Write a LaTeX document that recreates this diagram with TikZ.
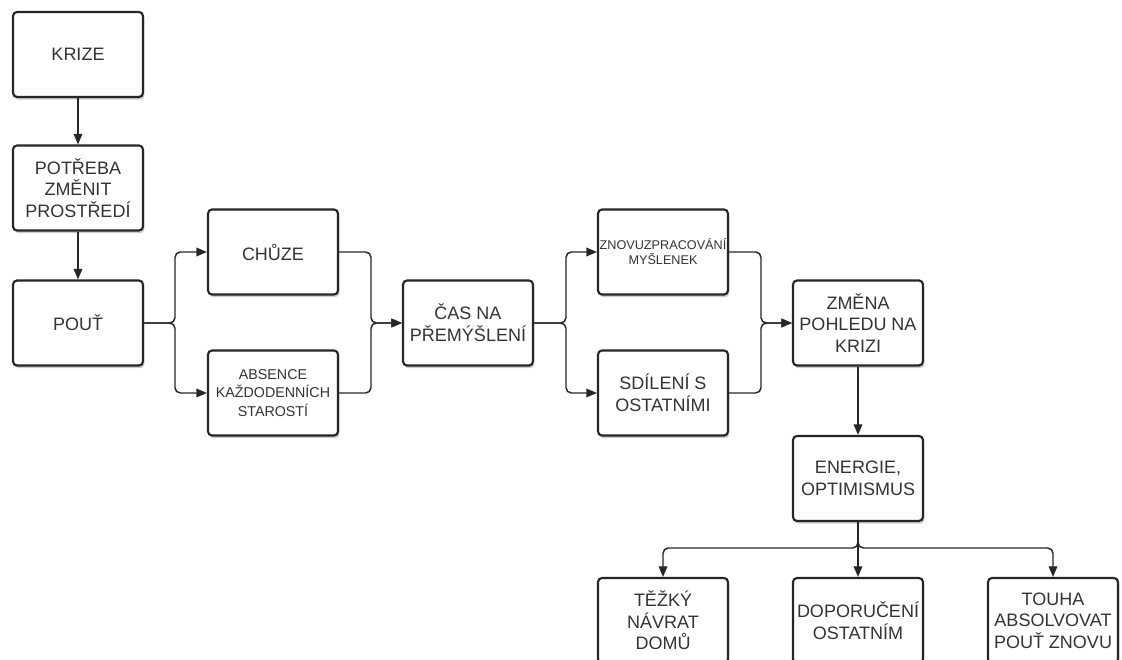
\documentclass[tikz,border=0pt]{standalone}
\usepackage{fontspec}
\setmainfont{Liberation Sans}
\usepackage{xcolor}
\usetikzlibrary{arrows.meta, shadows}

\definecolor{ramecek}{HTML}{262626}
\definecolor{textbarva}{HTML}{333333}

\begin{document}
\begin{tikzpicture}[x=0.75pt, y=0.75pt,
    >={Triangle[length=8pt, width=6.5pt]},
    krok/.style={draw=ramecek, line width=1.6pt, rounded corners=3pt, fill=white,
        minimum width=97.5pt, minimum height=63.75pt, inner sep=1pt, align=center,
        text=textbarva, font=\fontsize{13.5}{16.25}\selectfont,
        drop shadow={shadow xshift=1pt, shadow yshift=-2pt, opacity=0.2, fill=black}},
    maly/.style={font=\fontsize{10.7}{13.75}\selectfont},
    drobny/.style={font=\fontsize{9.5}{11.25}\selectfont},
    spoj/.style={->, draw=ramecek, line width=1.1pt, rounded corners=4pt}]

    \useasboundingbox (0,0) rectangle (1122,660);

    % 1. Kroky
    \node[krok] (krize) at (78,605.5) {KRIZE};
    \node[krok] (potreba) at (78,472) {POTŘEBA\\ZMĚNIT\\PROSTŘEDÍ};
    \node[krok] (pout) at (78,337) {POUŤ};

    \node[krok] (chuze) at (273,408) {CHŮZE};
    \node[krok, maly] (absence) at (273,267) {ABSENCE\\KAŽDODENNÍCH\\STAROSTÍ};

    \node[krok] (cas) at (468,337) {ČAS NA\\PŘEMÝŠLENÍ};

    \node[krok, drobny] (znovu) at (663,408) {ZNOVUZPRACOVÁNÍ\\MYŠLENEK};
    \node[krok] (sdileni) at (663,267) {SDÍLENÍ S\\OSTATNÍMI};

    \node[krok] (zmena) at (858,337) {ZMĚNA\\POHLEDU NA\\KRIZI};
    \node[krok] (energie) at (858,181.5) {ENERGIE,\\OPTIMISMUS};

    \node[krok] (tezky) at (663,39.5) {TĚŽKÝ\\NÁVRAT\\DOMŮ};
    \node[krok] (doporuceni) at (858,39.5) {DOPORUČENÍ\\OSTATNÍM};
    \node[krok] (touha) at (1053,39.5) {TOUHA\\ABSOLVOVAT\\POUŤ ZNOVU};

    % 2. Body vetveni
    \coordinate (rozdel1) at (175,337);
    \coordinate (spoj1) at (371,337);
    \coordinate (rozdel2) at (566,337);
    \coordinate (spoj2) at (761,337);
    \coordinate (rozdel3) at (858,112);

    % 3. Spojnice
    \draw[spoj] (krize) -- (potreba);
    \draw[spoj] (potreba) -- (pout);

    \draw[spoj] (pout.east) -- (rozdel1) |- (chuze.west);
    \draw[spoj] (pout.east) -- (rozdel1) |- (absence.west);
    \draw[spoj] (chuze.east) -| (spoj1) -- (cas.west);
    \draw[spoj] (absence.east) -| (spoj1) -- (cas.west);

    \draw[spoj] (cas.east) -- (rozdel2) |- (znovu.west);
    \draw[spoj] (cas.east) -- (rozdel2) |- (sdileni.west);
    \draw[spoj] (znovu.east) -| (spoj2) -- (zmena.west);
    \draw[spoj] (sdileni.east) -| (spoj2) -- (zmena.west);

    \draw[spoj] (zmena) -- (energie);

    \draw[spoj] (energie.south) -- (rozdel3) -| (tezky.north);
    \draw[spoj] (energie.south) -- (doporuceni.north);
    \draw[spoj] (energie.south) -- (rozdel3) -| (touha.north);
\end{tikzpicture}
\end{document}
